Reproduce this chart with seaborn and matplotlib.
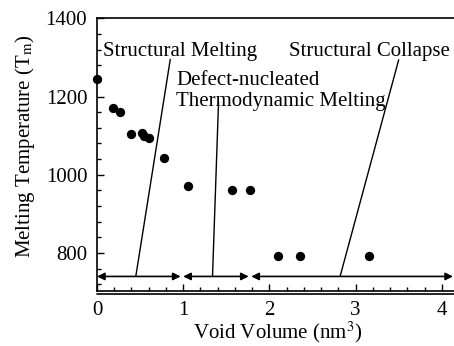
import matplotlib
matplotlib.use("Agg")
import matplotlib.pyplot as plt
import matplotlib.transforms as mtransforms
import seaborn as sns
import pandas as pd
from matplotlib.ticker import MultipleLocator

void_volume = [0.0, 0.19, 0.27, 0.39, 0.52, 0.54, 0.60, 0.78, 1.05, 1.57, 1.77, 2.10, 2.36, 3.15]
melting_temp = [1245, 1170, 1161, 1105, 1108, 1098, 1095, 1044, 971, 961, 961, 793, 793, 793]

region_labels = ["Structural Melting", "Defect-nucleated", "Thermodynamic Melting", "Structural Collapse"]
label_pos = [(0.07, 1315), (0.92, 1242), (0.92, 1187), (2.23, 1315)]
region_spans = [(0.0, 0.97), (1.0, 1.76), (1.79, 4.13)]
leader_top = [(0.85, 1295), (1.41, 1186), (3.50, 1294)]
leader_bottom = [(0.45, 740), (1.34, 740), (2.82, 740)]
arrow_y = 740

sns.set_theme(style="ticks")
plt.rcParams["font.family"] = ["Liberation Serif", "DejaVu Serif"]
plt.rcParams["mathtext.fontset"] = "stix"

fig = plt.figure(figsize=(4.54, 3.46), dpi=100)
ax = fig.add_axes([97 / 454, (346 - 291.3) / 346, 4.3 * 86.2 / 454, 273 / 346])

df = pd.DataFrame({"v": void_volume, "t": melting_temp})
sns.scatterplot(data=df, x="v", y="t", ax=ax, color="black", s=45, edgecolor="black",
                linewidth=0, zorder=3, clip_on=False)

ax.set_xlim(0, 4.3)
ax.set_ylim(702, 1400)
ax.xaxis.set_major_locator(MultipleLocator(1))
ax.xaxis.set_minor_locator(MultipleLocator(0.2))
ax.yaxis.set_major_locator(MultipleLocator(200))
ax.yaxis.set_minor_locator(MultipleLocator(40))
ax.tick_params(which="both", direction="in", colors="black", labelsize=15, top=False, right=False)
ax.tick_params(which="major", length=5, width=1, pad=7)
ax.tick_params(which="minor", length=3, width=1)
for s in ax.spines.values():
    s.set_color("black")
    s.set_linewidth(1.2)

# double bottom rule
off = mtransforms.ScaledTranslation(0, -2.2 / 100, fig.dpi_scale_trans)
ax.plot([0, 1], [0, 0], transform=ax.transAxes + off, color="black", lw=1.2, clip_on=False)

ax.set_xlabel("Void Volume (nm$^3$)", fontsize=15, color="black", labelpad=0)
ax.xaxis.label.set_x(0.489)
ax.set_ylabel("Melting Temperature (T$_\\mathrm{m}$)", fontsize=15, color="black", labelpad=6)
ax.yaxis.label.set_y(0.533)

for (x0, x1) in region_spans:
    ax.annotate("", xy=(x0, arrow_y), xytext=(x1, arrow_y),
                arrowprops=dict(arrowstyle="<|-|>", color="black", lw=1.2, mutation_scale=11,
                                shrinkA=0, shrinkB=0))

for lab, (tx, ty) in zip(region_labels, label_pos):
    ax.text(tx, ty, lab, fontsize=15, color="black", ha="left", va="center")
for (x0, y0), (x1, y1) in zip(leader_top, leader_bottom):
    ax.plot([x0, x1], [y0, y1], color="black", lw=1)

fig.savefig("out.png", dpi=100)
